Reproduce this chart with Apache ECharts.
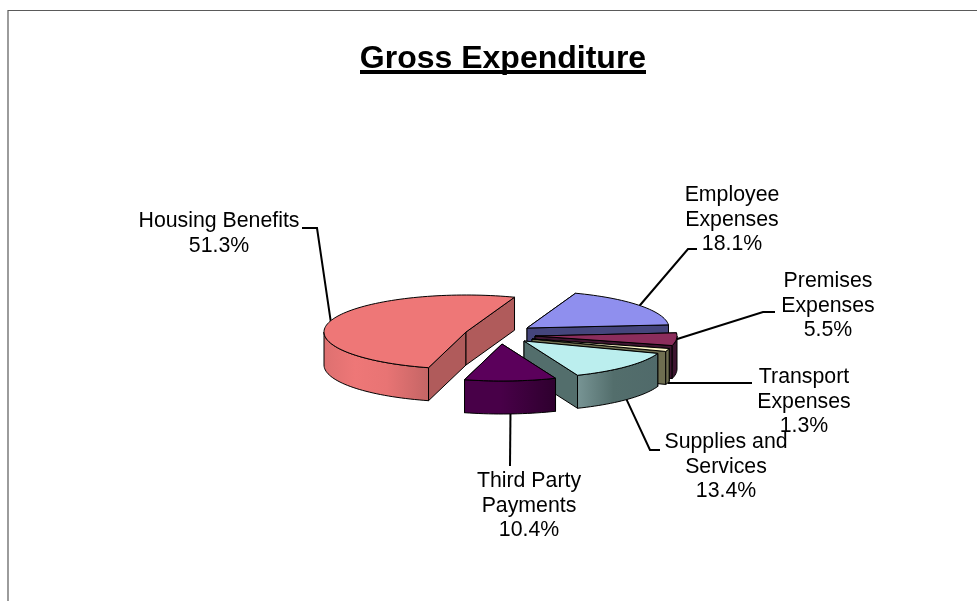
<!DOCTYPE html>
<html><head><meta charset="utf-8">
<style>html,body{margin:0;padding:0;background:#fff}#c{width:977px;height:601px}</style>
<script src="https://cdn.jsdelivr.net/npm/echarts@6/dist/echarts.min.js"></script>
</head><body><div id="c"></div>
<script>
// DATA
const titleText = 'Gross Expenditure';
const categories = ['Housing Benefits', 'Employee Expenses', 'Premises Expenses', 'Transport Expenses', 'Supplies and Services', 'Third Party Payments'];
const shares = [51.3, 18.1, 5.5, 1.3, 13.4, 10.4];
const labelLines = [['Housing Benefits'], ['Employee', 'Expenses'], ['Premises', 'Expenses'], ['Transport', 'Expenses'], ['Supplies and', 'Services'], ['Third Party', 'Payments']];

// LAYOUT
const RX = 142, RY = 37, DEPTH = 33, HOUSING_START = 105.3;
const apexes = [[466,332],[527,328],[535,336],[532,339],[524,341],[502,344]];
const labelCx = [219,732,828,804,726,529];
const labelTop = [221,195,281,377,442,481];
const bends = [[[317,228],[302,228]],[[688,249],[697,249]],[[763,312],[775,312]],[[752,383]],[[650,450],[660,450]],[[510,466]]];
const palette = {
  top:  ['#ee7777','#8f8fee','#8c2d5c','#fff9c8','#bbeeee','#5b005b'],
  side: ['#b05b5b','#45457c','#3e1530','#6e6e50','#536e6c','#3d003d'],
  wall: [[['#dd7070',0],['#ee7777',.3],['#e87474',.6],['#c46565',1]],
         [['#45457c',0],['#45457c',1]],
         [['#3e1530',0],['#3e1530',1]],
         [['#6e6e50',0],['#6e6e50',1]],
         [['#789595',0],['#536e6c',.45],['#506a6a',1]],
         [['#480048',0],['#480048',.4],['#2e002e',1]]]
};

// Angles from the shares, clockwise on screen; Employee starts where Housing ends
const spans = [[HOUSING_START, HOUSING_START + shares[0] * 3.6]];
let cursor = spans[0][1] - 360;
for (let i = 1; i < shares.length; i++) { const sw = shares[i] * 3.6; spans[i] = [cursor, cursor + sw]; cursor += sw; }

const rim = (i, d, dy) => { const t = d * Math.PI / 180; return [apexes[i][0] + RX * Math.cos(t), apexes[i][1] + RY * Math.sin(t) + (dy || 0)]; };
const arcPts = (i, a, b, dy) => { const n = Math.max(2, Math.ceil(Math.abs(b - a) / 2)); const r = []; for (let k = 0; k <= n; k++) r.push(rim(i, a + (b - a) * k / n, dy)); return r; };
const down = p => [p[0], p[1] + DEPTH];
const edge = { stroke: '#000', lineWidth: 1, lineJoin: 'round' };

function renderItem(params) {
  const i = params.dataIndex, [a, b] = spans[i], ch = [];
  const apex = apexes[i];
  const radial = d => { const r = rim(i, d); ch.push({ type: 'polygon', shape: { points: [apex, r, down(r), down(apex)] }, style: { fill: palette.side[i], ...edge } }); };
  radial(a); radial(b);
  const wa = Math.max(a, 0), wb = Math.min(b, 180);
  if (wb > wa) {
    const upper = arcPts(i, wa, wb), lower = arcPts(i, wb, wa, DEPTH);
    ch.push({ type: 'polygon', shape: { points: upper.concat(lower) }, style: {
      fill: { type: 'linear', x: 0, y: 0, x2: 1, y2: 0, colorStops: palette.wall[i].map(c => ({ color: c[0], offset: c[1] })) },
      ...edge } });
  }
  ch.push({ type: 'polygon', shape: { points: [apex].concat(arcPts(i, a, b)) }, style: { fill: palette.top[i], ...edge } });
  return { type: 'group', children: ch };
}
function renderLabels(params) {
  const i = params.dataIndex, [a, b] = spans[i], mid = (a + b) / 2, ch = [];
  const onFront = Math.sin(mid * Math.PI / 180) > 0.2;
  const start = rim(i, mid, onFront ? DEPTH : 0);
  ch.push({ type: 'polyline', shape: { points: [start].concat(bends[i]) }, style: { stroke: '#000', lineWidth: 2, fill: null } });
  const lines = labelLines[i].concat([shares[i].toFixed(1) + '%']);
  lines.forEach((t, k) => ch.push({ type: 'text', style: { text: t, x: labelCx[i], y: labelTop[i] + k * 24.7, align: 'center', verticalAlign: 'middle', fill: '#000', font: '21.3px "Liberation Sans"' } }));
  return { type: 'group', children: ch };
}

const chart = echarts.init(document.getElementById('c'), null, { renderer: 'canvas' });
chart.setOption({
  animation: false,
  backgroundColor: '#fff',
  title: { text: titleText, left: 498, top: 38, textAlign: 'center', textStyle: { fontFamily: 'Liberation Sans', fontSize: 32, fontWeight: 'bold', color: '#000' } },
  graphic: [
    { type: 'polyline', shape: { points: [[8,601],[8,10.5],[977,10.5]] }, style: { stroke: '#5a5a5a', lineWidth: 1.2, fill: null } },
    { type: 'rect', shape: { x: 360, y: 70, width: 286, height: 4 }, style: { fill: '#000' } }
  ],
  series: [
    { type: 'custom', coordinateSystem: 'none', data: categories.map((c, i) => ({ name: c, value: shares[i] })), renderItem: renderLabels, z: 1, silent: true },
    { type: 'custom', coordinateSystem: 'none', data: categories.map((c, i) => ({ name: c, value: shares[i] })), renderItem, z: 2, silent: true }
  ]
});
</script></body></html>
